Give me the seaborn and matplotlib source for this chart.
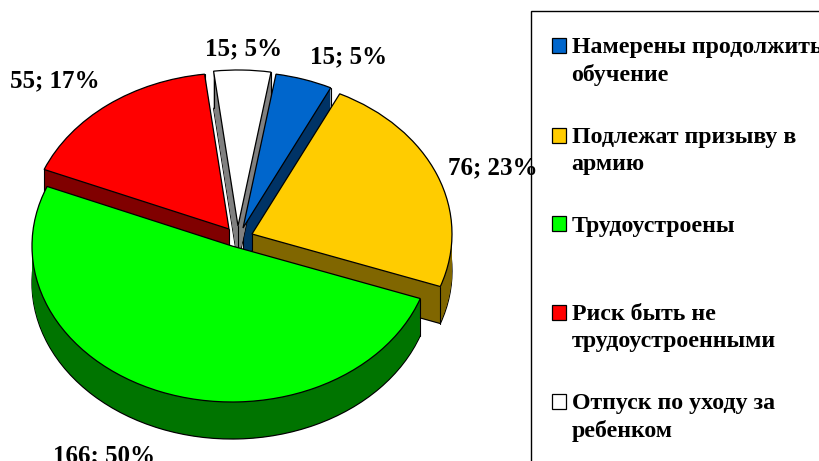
"""
Объёмная круговая диаграмма: что планируют выпускники
"""
import numpy as np
import matplotlib
matplotlib.use('Agg')
import matplotlib.pyplot as plt
from matplotlib.legend_handler import HandlerPatch
from matplotlib.patches import Rectangle
import seaborn as sns

# данные
categories = ['Намерены продолжить\nобучение',
              'Подлежат призыву в\nармию',
              'Трудоустроены\n ',
              'Риск быть не\nтрудоустроенными',
              'Отпуск по уходу за\nребенком']
values = [15, 76, 166, 55, 15]
percents = [5, 23, 50, 17, 5]
top_colors = ['#0066CC', '#FFCC00', '#00FF00', '#FF0000', '#FFFFFF']
wall_colors = ['#003366', '#806600', '#007400', '#800000', '#808080']

# вершины секторов в пикселях и геометрия "наклона"
APEX = [(243, 228), (252, 234), (232, 246), (229, 229), (238, 226)]
RADIUS = 200
SQUASH = 0.78
DEPTH = 37
START = 80.5
WALL_Z = [2.1, 2.3, 2.4, 2.0, 2.2]
LABEL_POS = [(349, 57), (493, 168), (104, 456), (55, 81), (244, 49)]
LEGEND_FONT = 17.2
LABEL_FONT = 18


def py(y):
    # пиксель по вертикали -> координата оси
    return -y / SQUASH


def draw_layer(ax, colors, shift, edge, lw):
    wedges, _ = ax.pie(values, radius=RADIUS, startangle=START, counterclock=False,
                       colors=colors, wedgeprops={'edgecolor': edge, 'linewidth': lw})
    for w, (x, y) in zip(wedges, APEX):
        w.set_center((x, py(y + shift)))
    return wedges


def first_line_handle(legend, orig_handle, xdescent, ydescent, width, height, fontsize):
    # квадрат маркера стоит на уровне первой строки подписи
    return Rectangle((-xdescent, -ydescent + 11.0), width, height)


def main():
    sns.set_theme(style='white')
    plt.rcParams['font.family'] = ['Liberation Serif', 'DejaVu Serif']
    plt.rcParams['font.weight'] = 'bold'

    fig = plt.figure(figsize=(8.2, 4.61), dpi=100)
    ax = fig.add_axes([0, 0, 1, 1])

    # боковые стенки: слои снизу вверх
    for d in range(DEPTH, 0, -1):
        edge = 'black' if d == DEPTH else 'none'
        layer = draw_layer(ax, wall_colors, d, edge, 0.9 if d == DEPTH else 0)
        for w, z in zip(layer, WALL_Z):
            w.set_zorder(z)

    tops = draw_layer(ax, top_colors, 0, 'black', 0.9)
    for w in tops:
        w.set_zorder(3)

    # вертикальные рёбра стенок
    for w, z, (x, y) in zip(tops, WALL_Z, APEX):
        for theta in (w.theta1, w.theta2):
            cx = x + RADIUS * np.cos(np.radians(theta))
            cy = y - RADIUS * SQUASH * np.sin(np.radians(theta))
            ax.plot([cx, cx], [py(cy), py(cy + DEPTH)], color='black', lw=0.8, zorder=z + 0.05)
        ax.plot([x, x], [py(y), py(y + DEPTH)], color='black', lw=0.8, zorder=z + 0.05)

    ax.set_aspect('auto')
    ax.set_xlim(0, 820)
    ax.set_ylim(py(461), 0)
    ax.axis('off')

    # рамка легенды уходит за край картинки
    ax.add_patch(Rectangle((531 / 820, -0.1), 0.5, 1.1 - 11 / 461, transform=ax.transAxes,
                           facecolor='white', edgecolor='black', linewidth=1.0, zorder=1,
                           clip_on=True))

    leg = ax.legend(tops, categories, loc='upper left',
                    bbox_to_anchor=(552 / 820, 1 - 37 / 461),
                    prop={'family': 'Liberation Serif', 'weight': 'bold', 'size': LEGEND_FONT},
                    labelcolor='black', frameon=False,
                    borderaxespad=0, borderpad=0, handlelength=0.6, handleheight=0.6,
                    handletextpad=0.22, labelspacing=1.72,
                    handler_map={w: HandlerPatch(patch_func=first_line_handle) for w in tops})
    leg.set_zorder(2)
    for t in leg.get_texts():
        t.set_linespacing(1.35)

    for v, p, (x, y) in zip(values, percents, LABEL_POS):
        ax.text(x, py(y), f'{v}; {p}%', ha='center', va='center', fontsize=LABEL_FONT,
                fontweight='bold', color='black', zorder=5)

    fig.savefig('out.png', dpi=100, facecolor='white')


if __name__ == '__main__':
    main()
